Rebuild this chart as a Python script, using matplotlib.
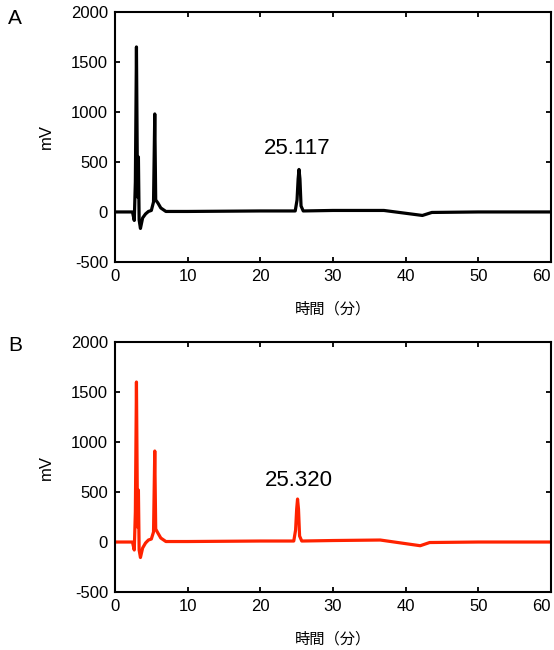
import matplotlib
matplotlib.use("Agg")
import matplotlib.pyplot as plt

plt.rcParams['font.family'] = ['Liberation Sans', 'Noto Sans CJK JP', 'DejaVu Sans']
plt.rcParams['axes.unicode_minus'] = False

# ============================================================
# 数据 (读图估计的色谱曲线关键点)
# ============================================================
t_a = [0, 2.4, 2.65, 2.8, 2.95, 3.1, 3.22, 3.32, 3.5, 3.8, 4.2, 4.6, 5.0, 5.3,
       5.47, 5.6, 5.9, 6.3, 7.0, 10, 20, 24.8, 25.05, 25.2, 25.32, 25.45, 25.6,
       25.9, 30, 37, 42.3, 43.6, 50, 60]
v_a = [0, 0, -85, 300, 1650, 150, 550, -80, -165, -60, -20, 5, 15, 100,
       980, 120, 90, 40, 5, 5, 10, 10, 120, 330, 425, 330, 60,
       10, 15, 15, -35, -5, 0, 0]

t_b = [0, 2.4, 2.65, 2.8, 2.95, 3.1, 3.22, 3.32, 3.5, 3.8, 4.2, 4.6, 5.0, 5.3,
       5.47, 5.6, 5.9, 6.3, 7.0, 10, 20, 24.6, 24.85, 25.0, 25.12, 25.25, 25.4,
       25.7, 30, 36.5, 42.0, 43.3, 50, 60]
v_b = [0, 0, -80, 300, 1600, 150, 520, -80, -155, -60, -10, 20, 30, 100,
       910, 130, 90, 40, 5, 5, 10, 10, 120, 330, 430, 330, 60,
       10, 15, 20, -37, -5, 0, 0]

peak_a = "25.117"
peak_b = "25.320"

xticks = [0, 10, 20, 30, 40, 50, 60]
yticks = [-500, 0, 500, 1000, 1500, 2000]

# ============================================================
# 作图
# ============================================================
fig = plt.figure(figsize=(5.54, 6.5), dpi=100)

ax_a = fig.add_axes([0.2076, 0.597, 0.787, 0.3846])
ax_b = fig.add_axes([0.2076, 0.0892, 0.787, 0.3846])


def plot_one(ax, t, v, color, peak_label, peak_x, peak_y):
    ax.plot(t, v, color=color, linewidth=2.3, solid_joinstyle='round')
    ax.set_xlim(0, 60)
    ax.set_ylim(-500, 2000)
    ax.set_xticks(xticks)
    ax.set_yticks(yticks)
    ax.tick_params(direction='in', top=True, right=True, length=3.5,
                   width=1.3, labelsize=12, pad=5)
    for sp in ax.spines.values():
        sp.set_linewidth(1.5)
    ax.set_xlabel("時間（分）", fontsize=11, labelpad=13)
    ax.set_ylabel("mV", fontsize=12, labelpad=12)
    ax.text(peak_x, peak_y, peak_label, fontsize=16, ha='center', va='center')
    # 最右的 "60" 右对齐, 不超出图边
    ax.get_xticklabels()[-1].set_horizontalalignment('right')


plot_one(ax_a, t_a, v_a, 'black', peak_a, 25.1, 630)
plot_one(ax_b, t_b, v_b, '#ff2200', peak_b, 25.3, 620)

fig.text(8 / 554, 1 - 9 / 650, "A", fontsize=15, ha='left', va='top')
fig.text(8 / 554, 1 - 336 / 650, "B", fontsize=15, ha='left', va='top')

plt.savefig("out.png", dpi=100)
plt.close()
